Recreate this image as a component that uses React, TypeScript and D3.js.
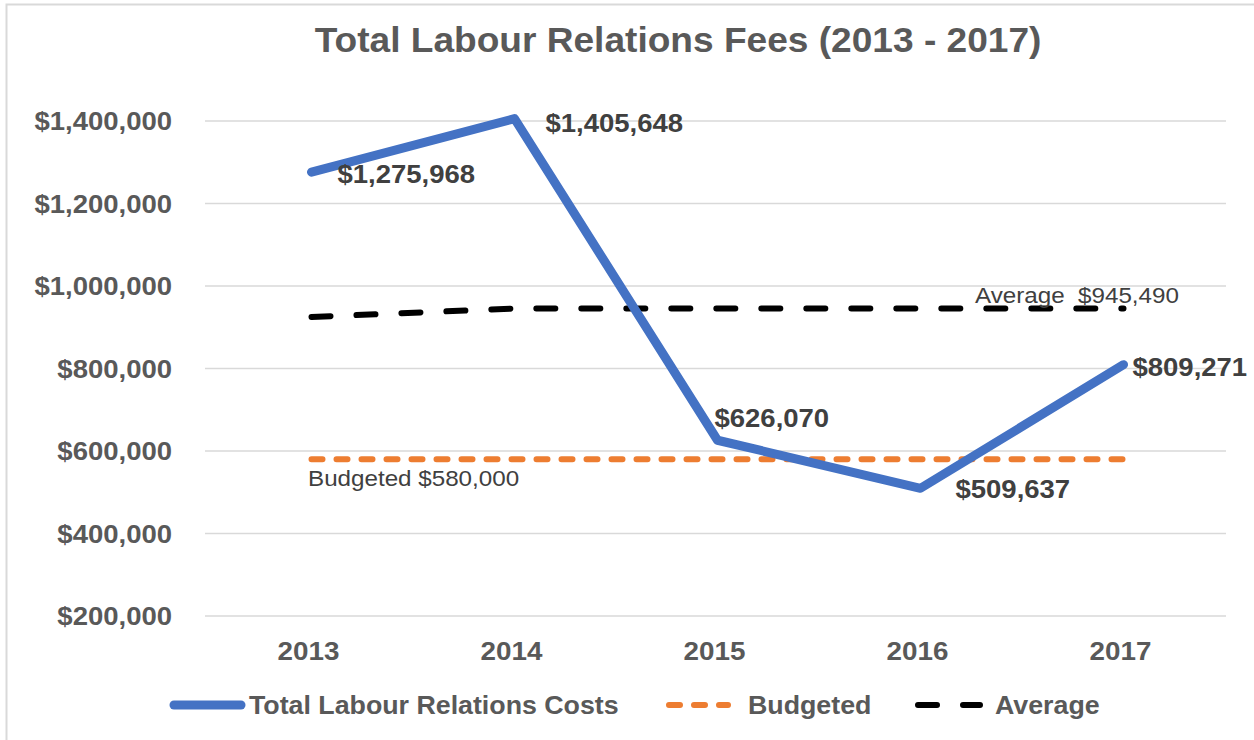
import React from "react";
import * as d3 from "d3";

const years = ["2013", "2014", "2015", "2016", "2017"];
const totalCosts = [1275968, 1405648, 626070, 509637, 809271];
const budgeted = [580000, 580000, 580000, 580000, 580000];
const average = [925000, 945490, 945490, 945490, 945490];
const yTicks = [200000, 400000, 600000, 800000, 1000000, 1200000, 1400000];
const legendItems = ["Total Labour Relations Costs", "Budgeted", "Average"];
const title = "Total Labour Relations Fees (2013 - 2017)";
const budgetNote = "Budgeted $580,000";
const averageNote = "Average  $945,490";

// label offsets (layout only)
const labelOffsets = [
  [26, 11],
  [31, 13],
  [-3, -13],
  [35, 10],
  [9, 11],
];

const W = 1254;
const H = 740;
const FONT = "'Liberation Sans', Arial, sans-serif";
const TEXT = "#595959";
const DARK = "#404040";
const BLUE = "#4472C4";
const ORANGE = "#ED7D31";

type TProps = {
  x: number;
  y: number;
  sx: number;
  size: number;
  bold?: boolean;
  fill: string;
  anchor?: "start" | "middle" | "end";
  children: React.ReactNode;
};

function T({ x, y, sx, size, bold, fill, anchor = "start", children }: TProps) {
  return (
    <text
      transform={`translate(${x},${y}) scale(${sx},1)`}
      textAnchor={anchor}
      fontFamily={FONT}
      fontWeight={bold ? "bold" : "normal"}
      fontSize={size}
      fill={fill}
      style={{ whiteSpace: "pre" }}
    >
      {children}
    </text>
  );
}

export default function App() {
  const x = d3.scaleBand<string>().domain(years).range([210, 1225]);
  const y = d3.scaleLinear().domain([200000, 1400000]).range([616, 121]);
  const cx = (d: string) => (x(d) as number) + x.bandwidth() / 2;
  const fmt = (v: number) => "$" + d3.format(",")(v);

  const line = d3
    .line<number>()
    .x((_, i) => cx(years[i]))
    .y((v) => y(v));

  return (
    <div style={{ position: "absolute", left: 0, top: 0 }}>
      <svg width={W} height={H} style={{ display: "block", background: "#fff" }}>
        <rect x={6.5} y={4.5} width={1400} height={1000} fill="#fff" stroke="#D9D9D9" strokeWidth={2} />
        <T x={678} y={52} sx={1.06} size={35} bold fill={TEXT} anchor="middle">
          {title}
        </T>
        {yTicks.map((t) => (
          <g key={t}>
            <line x1={205} x2={1226} y1={y(t)} y2={y(t)} stroke="#D9D9D9" strokeWidth={1.5} />
            <T x={172} y={y(t) + 9} sx={1.1} size={25} bold fill={TEXT} anchor="end">
              {fmt(t)}
            </T>
          </g>
        ))}
        {years.map((yr) => (
          <T key={yr} x={cx(yr) - 3} y={660} sx={1.07} size={26} bold fill={TEXT} anchor="middle">
            {yr}
          </T>
        ))}
        <path d={line(budgeted) || ""} fill="none" stroke={ORANGE} strokeWidth={6} strokeDasharray="11 14" strokeLinecap="round" />
        <path d={line(average) || ""} fill="none" stroke="#000" strokeWidth={6} strokeDasharray="19 26" strokeLinecap="round" />
        <path d={line(totalCosts) || ""} fill="none" stroke={BLUE} strokeWidth={9} strokeLinecap="round" strokeLinejoin="round" />
        {totalCosts.map((v, i) => (
          <T
            key={i}
            x={cx(years[i]) + labelOffsets[i][0]}
            y={y(v) + labelOffsets[i][1]}
            sx={1.1}
            size={25}
            bold
            fill={DARK}
          >
            {fmt(v)}
          </T>
        ))}
        <T x={308} y={486} sx={1.1} size={22} fill={DARK}>
          {budgetNote}
        </T>
        <T x={975} y={303} sx={1.1} size={22} fill={DARK}>
          {averageNote}
        </T>
        {/* legend */}
        <line x1={174} x2={241} y1={705} y2={705} stroke={BLUE} strokeWidth={9} strokeLinecap="round" />
        <T x={249} y={714} sx={1.05} size={25.5} bold fill={TEXT}>
          {legendItems[0]}
        </T>
        <line x1={669} x2={728} y1={705} y2={705} stroke={ORANGE} strokeWidth={6} strokeDasharray="11 14" strokeLinecap="round" />
        <T x={748} y={714} sx={1.05} size={25.5} bold fill={TEXT}>
          {legendItems[1]}
        </T>
        <line x1={918} x2={980} y1={705} y2={705} stroke="#000" strokeWidth={6} strokeDasharray="19 26" strokeLinecap="round" />
        <T x={995} y={714} sx={1.05} size={25.5} bold fill={TEXT}>
          {legendItems[2]}
        </T>
      </svg>
    </div>
  );
}
